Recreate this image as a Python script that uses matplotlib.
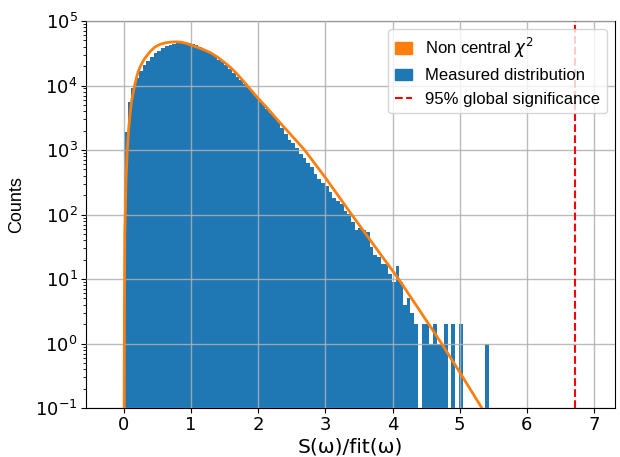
import numpy as np
import matplotlib
matplotlib.use("Agg")
import matplotlib.pyplot as plt
from matplotlib.patches import Patch
from matplotlib.lines import Line2D

# ---- data ----
bin_lo = 0.0
bin_hi = 5.43
counts = [
    1900, 5600, 9000, 13100, 16800, 20800, 24300, 28000, 31700, 34800,
    38000, 40500, 43000, 44500, 45500, 46000, 46300, 46000, 44200, 42000,
    39700, 37100, 34300, 31300, 28400, 25300, 23000, 20500, 18200, 15800,
    13700, 12100, 10700, 9300, 8100, 6800, 5700, 5000, 4400, 3750,
    3250, 2700, 2200, 1750, 1455, 1290, 1090, 883, 760, 630,
    545, 420, 360, 309, 275, 224, 182, 162, 144, 113,
    103, 76, 57, 63, 57, 53, 31, 24, 22, 17,
    17, 12, 9, 16, 9, 4, 5, 3, 2, 0,
    2, 2, 1, 2, 1, 1, 2, 0, 2, 0,
    2, 0, 0, 0, 0, 0, 0, 1,
]
fit_x = [0.002, 0.006, 0.012, 0.02, 0.03, 0.049, 0.07, 0.09, 0.114, 0.14,
         0.164, 0.19, 0.213, 0.25, 0.3, 0.387, 0.46, 0.536, 0.62, 0.685,
         0.774, 0.85, 0.93, 1.0, 1.1, 1.2, 1.3, 1.4, 1.5, 1.6,
         1.7, 1.8, 1.9, 2.0, 2.15, 2.3, 2.5, 2.69, 3.0, 3.37,
         3.7, 4.09, 4.4, 4.73, 5.0, 5.33]
fit_y = [0.1, 3, 50, 110, 340, 1000, 2150, 3600, 5900, 8000,
         10700, 13800, 16500, 20500, 25500, 33500, 39500, 43500, 46000, 47000,
         47600, 47000, 45000, 42400, 39000, 35500, 31800, 27200, 22700, 18500,
         14500, 11000, 8300, 6300, 4270, 2820, 1660, 1000, 372, 107,
         36, 10, 3.3, 1.0, 0.36, 0.1]
threshold = 6.72
xticks = [0, 1, 2, 3, 4, 5, 6, 7]

# ---- plot ----
fig = plt.figure(figsize=(6.2, 4.57), dpi=100)
ax = fig.add_axes([0.1387, 0.107, 0.853, 0.847])

edges = np.linspace(bin_lo, bin_hi, len(counts) + 1)
ax.bar(edges[:-1], counts, width=np.diff(edges), align="edge",
       color="#1f77b4", linewidth=0, zorder=1)
ax.plot(fit_x, fit_y, color="#ff7f0e", lw=2, zorder=3)
ax.axvline(threshold, color="red", ls="--", lw=1.5, zorder=3)

ax.set_yscale("log")
ax.set_ylim(0.1, 1e5)
ax.set_xlim(-0.566, 7.31)
ax.set_xticks(xticks)
ax.grid(True, color="#b0b0b0", lw=1.0, alpha=0.85, zorder=2)
ax.set_axisbelow(False)
ax.tick_params(labelsize=13, pad=2.5)

ax.set_xlabel("S(ω)/fit(ω)", fontsize=14.5, family="DejaVu Sans", labelpad=2)
ax.set_ylabel("Counts", fontsize=13, family="Liberation Sans")
ax.yaxis.set_label_coords(-0.115, 0.525)

handles = [
    Patch(color="#ff7f0e", label=r"Non central $\chi^2$"),
    Patch(color="#1f77b4", label="Measured distribution"),
    Line2D([0], [0], color="red", ls="--", lw=1.5, label="95% global significance"),
]
ax.legend(handles=handles, loc="upper right", handlelength=1.0,
          prop={"family": "Liberation Sans", "size": 12})

fig.savefig("out.png", dpi=100)
